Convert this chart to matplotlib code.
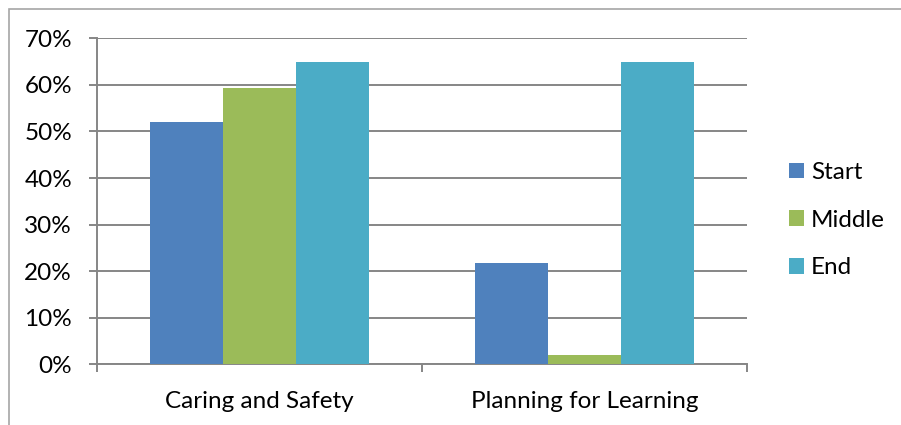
import matplotlib
matplotlib.use("Agg")
import matplotlib.pyplot as plt
from matplotlib.patches import Rectangle
from matplotlib.ticker import FuncFormatter, FixedLocator
import numpy as np

categories = ["Caring and Safety", "Planning for Learning"]
series_names = ["Start", "Middle", "End"]
start_vals = [52.1, 21.7]
middle_vals = [59.4, 2.1]
end_vals = [65.0, 65.0]
yticks = [0, 10, 20, 30, 40, 50, 60, 70]

colors = ["#4F81BD", "#9BBB59", "#4BACC6"]
grid_col = "#868686"
fs = 17.5

plt.rcParams["font.family"] = ["Lato", "DejaVu Sans"]

fig = plt.figure(figsize=(9.01, 4.25), dpi=100)
fig.patch.set_facecolor("white")

# outer chart frame (only left and top edges fall inside the image)
fig.add_artist(Rectangle((9 / 901, -0.1), 1.2, (425 - 9) / 425 + 0.1,
                         transform=fig.transFigure, fill=False,
                         edgecolor="#A6A6A6", linewidth=1.2))

ax = fig.add_axes([97 / 901, (425 - 364.3) / 425, 650 / 901, 326 / 425])

x = np.arange(len(categories))
w = 0.2246
for i, (name, vals) in enumerate(zip(series_names, [start_vals, middle_vals, end_vals])):
    ax.bar(x + (i - 1) * w, vals, width=w, color=colors[i], label=name,
           zorder=3, linewidth=0)

ax.set_xlim(-0.5, 1.5)
ax.set_ylim(0, 70)
ax.yaxis.set_major_locator(FixedLocator(yticks))
ax.yaxis.set_major_formatter(FuncFormatter(lambda v, p: f"{int(v)}%"))
ax.grid(axis="y", color=grid_col, linewidth=1.4, zorder=0)
ax.set_axisbelow(True)

ax.xaxis.set_major_locator(FixedLocator([-0.5, 0.5, 1.5]))
ax.xaxis.set_major_formatter(FuncFormatter(lambda v, p: ""))
ax.xaxis.set_minor_locator(FixedLocator(x))
ax.set_xticklabels(categories, minor=True)
ax.tick_params(axis="x", which="major", length=6, width=1.4, color=grid_col, direction="out")
ax.tick_params(axis="x", which="minor", length=0, pad=19, labelsize=fs, labelcolor="black")
ax.tick_params(axis="y", length=6, width=1.4, color=grid_col, pad=12, labelsize=fs,
               labelcolor="black")

for s in ["top", "right"]:
    ax.spines[s].set_visible(False)
for s in ["left", "bottom"]:
    ax.spines[s].set_color(grid_col)
    ax.spines[s].set_linewidth(1.4)

leg = ax.legend(loc="center left", bbox_to_anchor=(1.05, 0.442), frameon=False,
                fontsize=fs, handlelength=0.6, handleheight=0.6,
                handletextpad=0.3, labelspacing=1.1, borderaxespad=0)

fig.savefig("out.png", dpi=100)
